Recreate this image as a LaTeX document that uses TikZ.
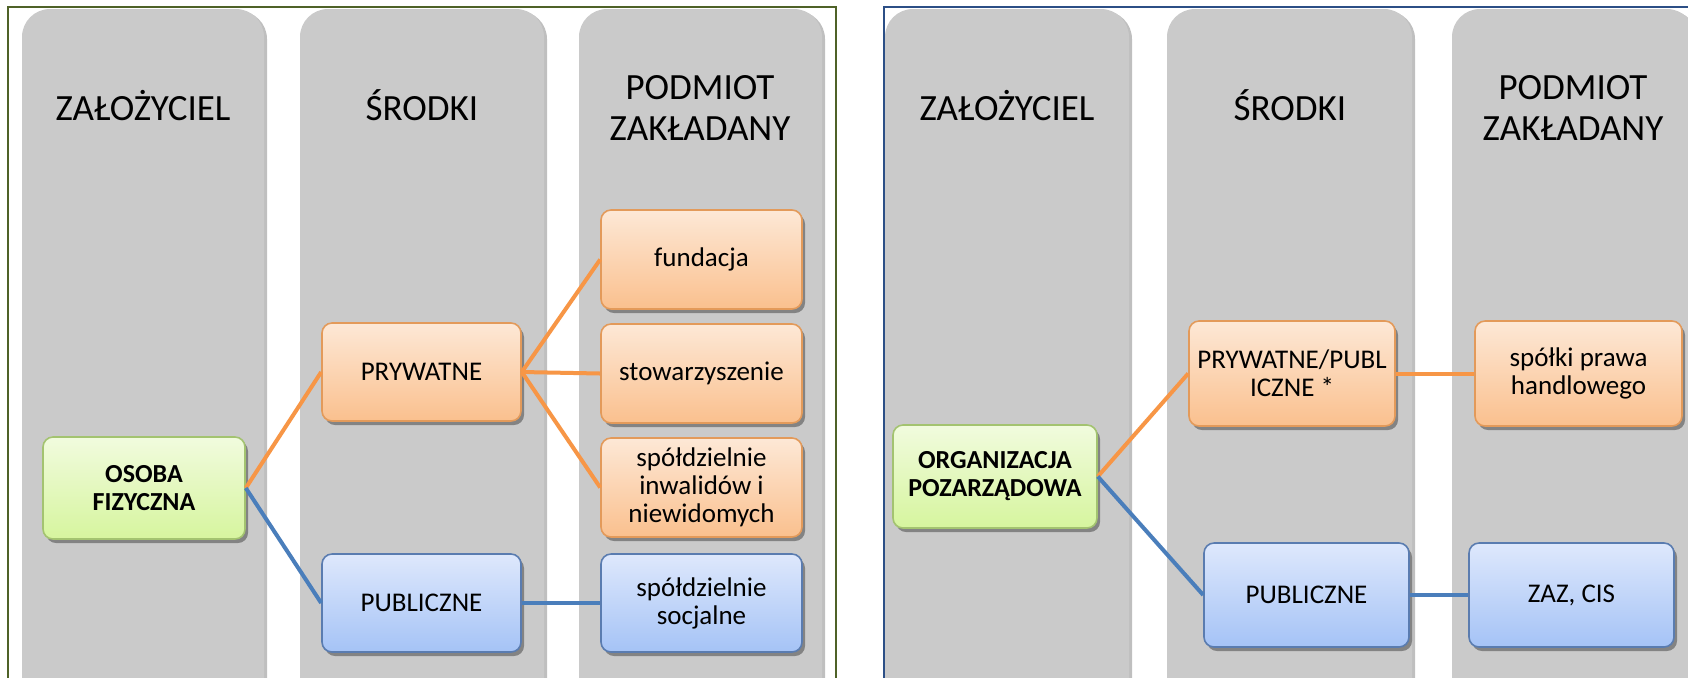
\documentclass[tikz,border=0pt]{standalone}
\usepackage{fontspec}
\setmainfont{Carlito}
\usetikzlibrary{shadows}
\definecolor{colgray}{HTML}{CACACA}
\definecolor{leftframe}{HTML}{4F6228}
\definecolor{rightframe}{HTML}{2C4F86}
\definecolor{otop}{HTML}{FDE8D6}
\definecolor{obot}{HTML}{FAC08E}
\definecolor{oborder}{HTML}{E39A5A}
\definecolor{btop}{HTML}{DEE8FC}
\definecolor{bbot}{HTML}{A5C3F6}
\definecolor{bborder}{HTML}{5A7CB0}
\definecolor{gtop}{HTML}{F1FBDE}
\definecolor{gbot}{HTML}{D6F59E}
\definecolor{gborder}{HTML}{A3C370}
\definecolor{oline}{HTML}{F79646}
\definecolor{bline}{HTML}{4A7EBB}
\tikzset{
  colbar/.style={fill=colgray, rounded corners=14pt,
    drop shadow={shadow xshift=1.5pt, shadow yshift=-1pt, opacity=0.25, fill=black}},
  box/.style={rounded corners=5pt, line width=0.8pt, align=center,
    font=\fontsize{13.5}{14}\selectfont, inner sep=2pt,
    drop shadow={shadow xshift=1.5pt, shadow yshift=-2pt, opacity=0.35, fill=black}},
  obox/.style={box, draw=oborder, top color=otop, bottom color=obot},
  bbox/.style={box, draw=bborder, top color=btop, bottom color=bbot},
  gbox/.style={box, draw=gborder, top color=gtop, bottom color=gbot,
    font=\fontsize{13}{14}\selectfont\bfseries},
  hdr/.style={font=\fontsize{18.5}{20.5}\selectfont, align=center, inner sep=0pt},
  ocon/.style={draw=oline, line width=2pt},
  bcon/.style={draw=bline, line width=2pt},
}
\begin{document}
\begin{tikzpicture}[x=0.5pt, y=-0.5pt]
\useasboundingbox (0,0) rectangle (1688,677);
\begin{scope}
\clip (0,0) rectangle (1688,677);
\fill[white] (0,0) rectangle (1688,677);
% frames
\draw[leftframe, line width=1pt] (8,7) rectangle (836,720);
\draw[rightframe, line width=1pt] (884,7) rectangle (1720,720);
% columns
\path[colbar] (22,9) rectangle (264,720);
\path[colbar] (300,9) rectangle (544,720);
\path[colbar] (579,9) rectangle (822,720);
\path[colbar] (885,9) rectangle (1129,720);
\path[colbar] (1167,9) rectangle (1412,720);
\path[colbar] (1452,9) rectangle (1695,720);
\end{scope}
% headers
\node[hdr, anchor=base] (h1) at (143,120) {ZAŁOŻYCIEL};
\node[hdr, anchor=base] (h2) at (422,120) {ŚRODKI};
\node[hdr] (h3) at (700,108) {PODMIOT\\ZAKŁADANY};
\node[hdr, anchor=base] (h4) at (1007,120) {ZAŁOŻYCIEL};
\node[hdr, anchor=base] (h5) at (1290,120) {ŚRODKI};
\node[hdr] (h6) at (1573,108) {PODMIOT\\ZAKŁADANY};
% left panel nodes
\node[gbox, minimum width=101pt, minimum height=51pt] (osoba) at (144,488) {OSOBA\\FIZYCZNA};
\node[obox, minimum width=99.5pt, minimum height=49pt] (pryw) at (421.5,372) {PRYWATNE};
\node[bbox, minimum width=99.5pt, minimum height=49pt] (pub1) at (421.5,603) {PUBLICZNE};
\node[obox, minimum width=100.5pt, minimum height=49.5pt] (fund) at (701.5,259.5) {fundacja};
\node[obox, minimum width=100.5pt, minimum height=49.5pt] (stow) at (701.5,373.5) {stowarzyszenie};
\node[obox, minimum width=100.5pt, minimum height=49.5pt] (spol) at (701.5,487.5) {spółdzielnie\\inwalidów i\\niewidomych};
\node[bbox, minimum width=100.5pt, minimum height=49pt] (socj) at (701.5,603) {spółdzielnie\\socjalne};
% right panel nodes
\node[gbox, minimum width=102pt, minimum height=51.5pt] (org) at (995,476.5) {ORGANIZACJA\\POZARZĄDOWA};
\node[obox, minimum width=103pt, minimum height=52.5pt] (pp) at (1292,373.5) {PRYWATNE/PUBL\\ICZNE *};
\node[obox, minimum width=103.5pt, minimum height=52.5pt] (spk) at (1578.5,373.5) {spółki prawa\\handlowego};
\node[bbox, minimum width=102.5pt, minimum height=52pt] (pub2) at (1306.5,595) {PUBLICZNE};
\node[bbox, minimum width=102.5pt, minimum height=52pt] (zaz) at (1571.5,595) {ZAZ, CIS};
% connectors
\draw[ocon] (osoba.east) -- (pryw.west);
\draw[bcon] (osoba.east) -- (pub1.west);
\draw[ocon] (pryw.east) -- (fund.west);
\draw[ocon] (pryw.east) -- (stow.west);
\draw[ocon] (pryw.east) -- (spol.west);
\draw[bcon] (pub1.east) -- (socj.west);
\draw[ocon] (org.east) -- (pp.west);
\draw[bcon] (org.east) -- (pub2.west);
\draw[ocon] (pp.east) -- (spk.west);
\draw[bcon] (pub2.east) -- (zaz.west);
\end{tikzpicture}
\end{document}
